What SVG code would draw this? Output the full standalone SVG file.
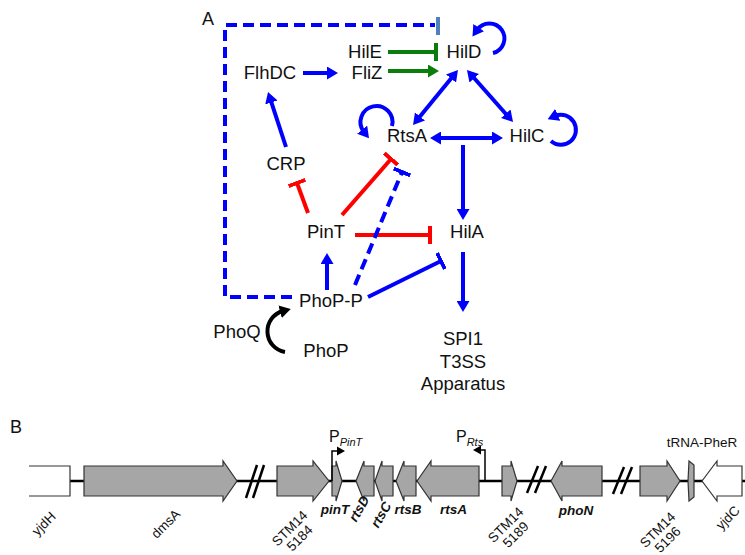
<svg xmlns="http://www.w3.org/2000/svg" width="745" height="555" viewBox="0 0 745 555">
<style>
text{font-family:"Liberation Sans",Arial,sans-serif;fill:#111}
.n{font-size:18.5px;text-anchor:middle}
.lb{font-size:18px}
.g{font-size:13.5px}
.c{text-anchor:middle}
.bi{font-weight:bold;font-style:italic}
.bl{stroke:#0000ff;stroke-width:4;fill:none}
.rd{stroke:#ff0000;stroke-width:4;fill:none}
.gr{stroke:#0a7d0a;stroke-width:4;fill:none}
.bk{stroke:#000;stroke-width:4;fill:none}
.gene{fill:#a6a6a6;stroke:#333;stroke-width:1.2}
.wgene{fill:#fff;stroke:#333;stroke-width:1.2}
.brk{stroke:#000;stroke-width:2.5}
.pr{stroke:#000;stroke-width:1.5;fill:none}
</style>
<defs>
<marker id="ab" viewBox="0 0 11 13" markerWidth="11" markerHeight="13" refX="3" refY="6.5" orient="auto-start-reverse" markerUnits="userSpaceOnUse"><path d="M0,0 L11,6.5 L0,13 z" fill="#0000ff"/></marker>
<marker id="ag" viewBox="0 0 11 13" markerWidth="11" markerHeight="13" refX="3" refY="6.5" orient="auto" markerUnits="userSpaceOnUse"><path d="M0,0 L11,6.5 L0,13 z" fill="#0a7d0a"/></marker>
<marker id="ak" viewBox="0 0 11 13" markerWidth="11" markerHeight="13" refX="3" refY="6.5" orient="auto" markerUnits="userSpaceOnUse"><path d="M0,0 L11,6.5 L0,13 z" fill="#000"/></marker>
<marker id="tb" viewBox="0 0 4 18" markerWidth="4" markerHeight="18" refX="2" refY="9" orient="auto" markerUnits="userSpaceOnUse"><rect width="4" height="18" fill="#0000ff"/></marker>
<marker id="tr" viewBox="0 0 4 18" markerWidth="4" markerHeight="18" refX="2" refY="9" orient="auto" markerUnits="userSpaceOnUse"><rect width="4" height="18" fill="#ff0000"/></marker>
<marker id="tg" viewBox="0 0 4 18" markerWidth="4" markerHeight="18" refX="2" refY="9" orient="auto" markerUnits="userSpaceOnUse"><rect width="4" height="18" fill="#0a7d0a"/></marker>
</defs>

<text class="lb" x="202" y="25">A</text>
<text class="lb" x="10" y="433">B</text>

<g id="connectors">
<path class="bl" d="M292,297 H225 V25 H435" stroke-dasharray="11 6"/>
<rect x="436" y="17" width="4" height="18" fill="#4f81bd"/>
<line class="bl" x1="303" y1="73" x2="330" y2="73" marker-end="url(#ab)"/>
<line class="gr" x1="388" y1="71" x2="431" y2="71" marker-end="url(#ag)"/>
<line class="gr" x1="388" y1="52" x2="436" y2="52" marker-end="url(#tg)"/>
<line class="bl" x1="286" y1="147" x2="270.5" y2="99.6" marker-end="url(#ab)"/>
<line class="bl" x1="452.9" y1="76.2" x2="418.1" y2="118.8" marker-start="url(#ab)" marker-end="url(#ab)"/>
<line class="bl" x1="472.3" y1="76" x2="507.7" y2="116" marker-start="url(#ab)" marker-end="url(#ab)"/>
<line class="bl" x1="438" y1="138" x2="495" y2="138" marker-start="url(#ab)" marker-end="url(#ab)"/>
<line class="bl" x1="463" y1="145" x2="463" y2="212" marker-end="url(#ab)"/>
<line class="bl" x1="463" y1="252" x2="463" y2="304" marker-end="url(#ab)"/>
<line class="bl" x1="327" y1="290" x2="327" y2="261" marker-end="url(#ab)"/>
<line class="rd" x1="355" y1="235" x2="430" y2="235" marker-end="url(#tr)"/>
<line class="rd" x1="308" y1="213" x2="297" y2="183" marker-end="url(#tr)"/>
<line class="rd" x1="342" y1="215" x2="391" y2="159" marker-end="url(#tr)"/>
<line class="bl" x1="355" y1="285" x2="402" y2="172" stroke-dasharray="11 6" marker-end="url(#tb)"/>
<line class="bl" x1="368" y1="297" x2="441" y2="261" marker-end="url(#tb)"/>
<path class="bl" d="M493,53 A15,15 0 1 0 477,30" marker-end="url(#ab)"/>
<path class="bl" d="M392,126 A16,16 0 1 0 364,132" marker-end="url(#ab)"/>
<path class="bl" d="M551,141 A15,15 0 1 0 555,116" marker-end="url(#ab)"/>
<path class="bk" d="M285,352 A21,21 0 0 1 283,311" marker-end="url(#ak)"/>
</g>

<g id="HilE"><text class="n" x="365" y="57.5">HilE</text></g>
<g id="HilD"><text class="n" x="464" y="57.5">HilD</text></g>
<g id="FlhDC"><text class="n" x="270" y="79">FlhDC</text></g>
<g id="FliZ"><text class="n" x="367" y="79">FliZ</text></g>
<g id="RtsA"><text class="n" x="407" y="142">RtsA</text></g>
<g id="HilC"><text class="n" x="527" y="142">HilC</text></g>
<g id="CRP"><text class="n" x="286" y="170">CRP</text></g>
<g id="PinT"><text class="n" x="326" y="238">PinT</text></g>
<g id="HilA"><text class="n" x="467" y="238">HilA</text></g>
<g id="PhoP-P"><text class="n" x="331" y="307">PhoP-P</text></g>
<g id="PhoQ"><text class="n" x="237" y="338">PhoQ</text></g>
<g id="PhoP"><text class="n" x="326" y="357">PhoP</text></g>
<g id="SPI1"><text class="n" x="463" y="345">SPI1</text><text class="n" x="463" y="368">T3SS</text><text class="n" x="463" y="390">Apparatus</text></g>

<g id="locus">
<line x1="70" y1="481" x2="745" y2="481" stroke="#000" stroke-width="2.5"/>
<path class="wgene" d="M29,466 H70 V496 H29"/>
<polygon class="gene" points="84,466 223,466 223,461 237,481 223,501 223,496 84,496"/>
<line class="brk" x1="246" y1="498" x2="257" y2="465"/>
<line class="brk" x1="253" y1="498" x2="264" y2="465"/>
<polygon class="gene" points="277,466 313,466 313,461 329,481 313,501 313,496 277,496"/>
<polygon class="gene" points="332,466 336,466 336,461 342,481 336,501 336,496 332,496"/>
<polygon class="gene" points="356,481 364,461 364,466 374,466 374,496 364,496 364,501"/>
<polygon class="gene" points="375,481 382,461 382,466 393,466 393,496 382,496 382,501"/>
<polygon class="gene" points="396,481 404,461 404,466 416,466 416,496 404,496 404,501"/>
<polygon class="gene" points="417,481 431,461 431,466 479,466 479,496 431,496 431,501"/>
<polygon class="gene" points="502,466 511,466 511,461 517,481 511,501 511,496 502,496"/>
<line class="brk" x1="527" y1="493" x2="538" y2="466"/>
<line class="brk" x1="535" y1="493" x2="546" y2="466"/>
<polygon class="gene" points="551,481 562,461 562,466 602,466 602,496 562,496 562,501"/>
<line class="brk" x1="613" y1="494" x2="624" y2="467"/>
<line class="brk" x1="621" y1="494" x2="632" y2="467"/>
<polygon class="gene" points="640,466 667,466 667,461 680,481 667,501 667,496 640,496"/>
<polygon class="gene" points="689,461 694,465 694,497 689,501 688,481"/>
<polygon class="wgene" points="702,481 717,461 717,466 742,466 742,496 717,496 717,501"/>
<path class="pr" d="M332,481 V451 H337"/>
<path d="M337,446.5 L345,451 L337,455.5 z"/>
<path class="pr" d="M485,481 V450 H481"/>
<path d="M481,445.5 L473,450 L481,454.5 z"/>
<text x="329" y="442" font-size="16">P<tspan font-size="11" font-style="italic" dy="4">PinT</tspan></text>
<text x="456" y="442" font-size="16">P<tspan font-size="11" font-style="italic" dy="4">Rts</tspan></text>
<text class="g c" x="702" y="447">tRNA-PheR</text>
<text class="g c" transform="translate(47,527) rotate(-45)">yjdH</text>
<text class="g c" transform="translate(169,527) rotate(-45)">dmsA</text>
<text class="g c" transform="translate(293,531.5) rotate(-45)">STM14<tspan x="0" dy="14">5184</tspan></text>
<text class="g c bi" x="335" y="514">pinT</text>
<text class="g c bi" transform="translate(363,511) rotate(-60)">rtsD</text>
<text class="g c bi" transform="translate(385,517) rotate(-60)">rtsC</text>
<text class="g c bi" x="408" y="514">rtsB</text>
<text class="g c bi" x="453.5" y="514">rtsA</text>
<text class="g c" transform="translate(509,528) rotate(-45)">STM14<tspan x="0" dy="14">5189</tspan></text>
<text class="g c bi" x="576" y="515">phoN</text>
<text class="g c" transform="translate(661,533) rotate(-45)">STM14<tspan x="0" dy="14">5196</tspan></text>
<text class="g c" transform="translate(731,521) rotate(-45)">yjdC</text>
</g>
</svg>
